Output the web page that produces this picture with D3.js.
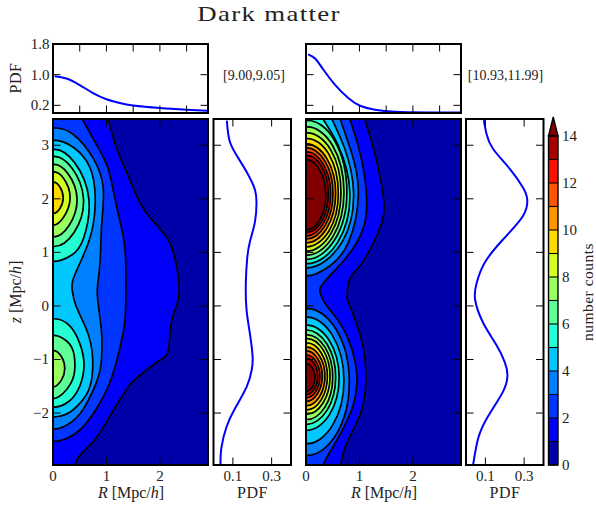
<!DOCTYPE html>
<html>
<head>
<meta charset="utf-8">
<script src="https://cdn.jsdelivr.net/npm/d3@7"></script>
<style>
html,body{margin:0;padding:0;background:#fff}
svg{display:block}
text{font-family:"Liberation Serif",serif;fill:#222}
</style>
</head>
<body>
<svg id="c" width="596" height="507"></svg>
<script>
// ---------- data ----------
const bandColors = ["#0000a8","#0000fa","#0036ff","#0080ff","#00c8ff","#23ffd3","#5eff99","#99ff5e","#d3ff23","#ffda00","#ff9600","#ff5400","#ff1000","#a80000","#800000"];
const colorbarTicks = [0,2,4,6,8,10,12,14];
const colorLevels = d3.range(0,15);
const zTicks = [-2,-1,0,1,2,3];
const rTicks = [0,1,2];
const rTickMarks = [1,2];
const topRTicks = [0.5,1,1.5,2,2.5];
const pdfTopTicks = [0.2,1.0,1.8];
const pdfSideTicks = [0.1,0.3];

const topPdfLeft = [[0.03,0.96],[0.25,0.9],[0.5,0.73],[0.75,0.52],[1.0,0.36],[1.25,0.26],[1.5,0.195],[2.0,0.13],[2.5,0.087],[2.88,0.06]];
const topPdfRight = [[0.04,1.53],[0.17,1.42],[0.32,1.14],[0.54,0.74],[0.79,0.39],[1.01,0.19],[1.29,0.087],[1.66,0.034],[2.29,0.016],[2.88,0.01]];
const sidePdfLeft = [[0.069,3.46],[0.084,3.07],[0.128,2.76],[0.179,2.45],[0.214,2.17],[0.222,1.92],[0.214,1.57],[0.188,1.2],[0.174,0.89],[0.167,0.45],[0.17,-0.05],[0.188,-0.52],[0.202,-0.95],[0.197,-1.2],[0.171,-1.51],[0.11,-1.92],[0.067,-2.26],[0.041,-2.64],[0.036,-2.95]];
const sidePdfRight = [[0.092,3.47],[0.106,3.21],[0.14,2.93],[0.226,2.56],[0.294,2.21],[0.316,1.99],[0.294,1.68],[0.191,1.24],[0.097,0.81],[0.055,0.43],[0.047,0.12],[0.089,-0.32],[0.157,-0.73],[0.2,-1.05],[0.214,-1.29],[0.191,-1.6],[0.114,-2.06],[0.063,-2.47],[0.037,-2.96]];

// contour lines: [level, [[R,z],...]]
const leftContours = [
 [1,[[0.97,3.7],[1.03,3.49],[1.19,2.95],[1.41,2.42],[1.63,1.92],[1.91,1.54],[2.16,1.23],[2.31,0.76],[2.36,0.26],[2.3,-0.03],[2.21,-0.33],[2.16,-0.83],[2.0,-1.01],[1.63,-1.29],[1.41,-1.51],[1.1,-2.0],[0.78,-2.5],[0.5,-2.79],[0.41,-2.98],[0.36,-3.2]]],
 [2,[[0.45,3.7],[0.55,3.49],[0.82,3.0],[1.03,2.57],[1.16,2.0],[1.31,1.32],[1.36,0.82],[1.36,0],[1.31,-0.52],[1.16,-1.14],[0.94,-1.7],[0.57,-2.25],[0.26,-2.47],[0,-2.53]]],
 [3,[[0,3.32],[0.38,3.2],[0.75,2.76],[0.94,2.2],[0.91,1.51],[0.88,0.82],[0.83,0.33],[0.85,0],[0.91,-0.52],[0.91,-0.95],[0.85,-1.32],[0.63,-1.82],[0.38,-2.14],[0,-2.3]]],
 [4,[[0,3.09],[0.32,3.0],[0.63,2.7],[0.78,2.2],[0.75,1.51],[0.57,0.95],[0.38,0.51],[0.36,0.29],[0.43,0],[0.63,-0.45],[0.74,-0.95],[0.69,-1.51],[0.5,-1.82],[0.29,-2.0],[0,-2.07]]],
 [5,[[0,2.92],[0.4,2.68],[0.67,2.0],[0.57,1.26],[0.35,0.95],[0,0.83]]],
 [5,[[0,-0.24],[0.3,-0.36],[0.5,-0.7],[0.58,-1.1],[0.5,-1.5],[0.3,-1.78],[0,-1.89]]],
 [6,[[0,2.79],[0.35,2.58],[0.57,2.0],[0.4,1.38],[0,1.11]]],
 [6,[[0,-0.55],[0.25,-0.65],[0.38,-0.85],[0.41,-1.12],[0.33,-1.45],[0,-1.73]]],
 [7,[[0,2.64],[0.28,2.47],[0.45,2.0],[0.3,1.5],[0,1.29]]],
 [7,[[0,-0.83],[0.16,-0.95],[0.22,-1.17],[0.16,-1.38],[0,-1.51]]],
 [8,[[0,2.5],[0.2,2.38],[0.32,2.02],[0.2,1.66],[0,1.51]]],
 [9,[[0,2.31],[0.13,2.22],[0.19,2.02],[0.13,1.82],[0,1.73]]]
];
const rightContours = [
 [1,[[1.05,3.7],[1.1,3.49],[1.29,2.83],[1.45,2.01],[1.38,1.45],[1.04,0.79],[0.82,0.51],[0.77,0.2],[0.82,0],[1.04,-0.64],[1.12,-1.29],[1.04,-1.95],[0.76,-2.57],[0.65,-2.97],[0.6,-3.2]]],
 [2,[[0.76,3.7],[0.82,3.49],[1.0,2.9],[1.13,2.1],[1.07,1.45],[0.75,0.9],[0.32,0.42],[0.27,0.23],[0.36,0.04],[0.6,-0.27],[0.82,-0.7],[0.95,-1.29],[0.85,-1.95],[0.54,-2.57],[0.32,-2.97],[0.27,-3.2]]],
 [3,[[0.58,3.7],[0.635,3.5],[0.84,2.9],[0.98,2.1],[0.8,1.2],[0.45,0.75],[0,0.56]]],
 [3,[[0,-0.05],[0.57,-0.45],[0.81,-1.42],[0.57,-2.39],[0,-2.79]]],
 [4,[[0.42,3.7],[0.48,3.5],[0.72,2.95],[0.89,2.12],[0.68,1.2],[0,0.71]]],
 [4,[[0,-0.21],[0.5,-0.56],[0.71,-1.39],[0.5,-2.22],[0,-2.57]]],
 [5,[[0.26,3.7],[0.32,3.49],[0.6,3.0],[0.82,2.12],[0.6,1.2],[0,0.79]]],
 [5,[[0,-0.36],[0.438,-0.65],[0.62,-1.34],[0.438,-2.03],[0,-2.32]]],
 [6,[[0,3.46],[0.54,3.08],[0.765,2.12],[0.54,1.24],[0,0.87]]],
 [6,[[0,-0.45],[0.392,-0.71],[0.555,-1.33],[0.392,-1.95],[0,-2.21]]],
 [7,[[0,3.34],[0.5,2.99],[0.71,2.12],[0.5,1.29],[0,0.95]]],
 [7,[[0,-0.54],[0.354,-0.77],[0.5,-1.33],[0.354,-1.89],[0,-2.12]]],
 [8,[[0,3.23],[0.465,2.91],[0.655,2.12],[0.465,1.35],[0,1.025]]],
 [8,[[0,-0.61],[0.318,-0.816],[0.45,-1.315],[0.318,-1.813],[0,-2.02]]],
 [9,[[0,3.125],[0.43,2.83],[0.605,2.1],[0.43,1.4],[0,1.105]]],
 [9,[[0,-0.69],[0.283,-0.873],[0.4,-1.315],[0.283,-1.757],[0,-1.94]]],
 [10,[[0,3.025],[0.39,2.75],[0.555,2.1],[0.39,1.45],[0,1.18]]],
 [10,[[0,-0.77],[0.25,-0.93],[0.355,-1.315],[0.25,-1.7],[0,-1.86]]],
 [11,[[0,2.95],[0.357,2.7],[0.505,2.1],[0.357,1.5],[0,1.25]]],
 [11,[[0,-0.84],[0.215,-0.98],[0.305,-1.31],[0.215,-1.64],[0,-1.78]]],
 [12,[[0,2.875],[0.325,2.64],[0.46,2.09],[0.325,1.54],[0,1.31]]],
 [12,[[0,-0.92],[0.185,-1.035],[0.26,-1.315],[0.185,-1.595],[0,-1.71]]],
 [13,[[0,2.81],[0.295,2.6],[0.417,2.09],[0.295,1.58],[0,1.375]]],
 [13,[[0,-0.98],[0.155,-1.08],[0.22,-1.32],[0.155,-1.55],[0,-1.65]]],
 [14,[[0,2.73],[0.26,2.53],[0.37,2.07],[0.26,1.61],[0,1.42]]],
 [14,[[0,-1.08],[0.12,-1.155],[0.17,-1.335],[0.12,-1.515],[0,-1.59]]]
];

// ---------- layout ----------
const svg = d3.select("#c");
const mainTop = 119, mainBottom = 465, topTop = 44, topBottom = 113;
const leftX = 53, rightX = 306, mainW = 155, sideW = 77.5, leftSide = 213.5, rightSide = 466;
const font = 15, labelFont = 16, tickLen = 7.5;
const zScale = d3.scaleLinear().domain([-2.97,3.49]).range([mainBottom,mainTop]);
const pdfScale = d3.scaleLinear().domain([0,1.8]).range([topBottom,topTop]);
const blue = "#0000ff";

function ticksIn(g,a,b,tv,scale,horizontal,len){
  tv.forEach(v=>{
    const p = scale(v);
    if(horizontal){
      g.append("line").attr("x1",a).attr("x2",a+len).attr("y1",p).attr("y2",p).attr("stroke","#000");
      g.append("line").attr("x1",b-len).attr("x2",b).attr("y1",p).attr("y2",p).attr("stroke","#000");
    } else {
      g.append("line").attr("y1",a).attr("y2",a-len).attr("x1",p).attr("x2",p).attr("stroke","#000");
      g.append("line").attr("y1",b+len).attr("y2",b).attr("x1",p).attr("x2",p).attr("stroke","#000");
    }
  });
}
function frame(g,x,y,w,h){
  g.append("rect").attr("x",x).attr("y",y).attr("width",w).attr("height",h)
   .attr("fill","none").attr("stroke","#000").attr("stroke-width",2);
}
let clipId = 0;
function clip(x,y,w,h){
  const id = "clip"+(clipId++);
  svg.append("clipPath").attr("id",id).append("rect").attr("x",x).attr("y",y).attr("width",w).attr("height",h);
  return id;
}
function mirrored(pts){
  const p = pts.slice();
  if(p[0][0]===0) p.unshift([-p[1][0],p[1][1]]);
  if(p[p.length-1][0]===0) p.push([-p[p.length-2][0],p[p.length-2][1]]);
  return p;
}

function mainPanel(x0,contours){
  const r = d3.scaleLinear().domain([0,2.9]).range([x0,x0+mainW]);
  const g = svg.append("g");
  const c = g.append("g").attr("clip-path",`url(#${clip(x0,mainTop,mainW,mainBottom-mainTop)})`);
  c.append("rect").attr("x",x0).attr("y",mainTop).attr("width",mainW).attr("height",mainBottom-mainTop).attr("fill",bandColors[0]);
  const line = d3.line().x(d=>r(d[0])).y(d=>zScale(d[1])).curve(d3.curveNatural);
  contours.forEach(([level,pts])=>{
    const p = mirrored(pts);
    const a = p[0], b = p[p.length-1];
    const left = r(-0.5);
    c.append("path")
     .attr("d",line(p)+`L${left},${zScale(b[1])}L${left},${zScale(a[1])}Z`)
     .attr("fill",bandColors[level]);
  });
  contours.forEach(([level,pts])=>{
    c.append("path").attr("d",line(mirrored(pts))).attr("fill","none").attr("stroke","#000").attr("stroke-width",1.7);
  });
  ticksIn(g,x0,x0+mainW,zTicks,zScale,true,tickLen);
  ticksIn(g,mainTop+tickLen,mainBottom-tickLen,rTickMarks,r,false,tickLen);
  frame(g,x0,mainTop,mainW,mainBottom-mainTop);
  rTicks.forEach(v=>{
    g.append("text").attr("x",r(v)).attr("y",480.5).attr("text-anchor","middle").attr("font-size",font).text(v);
  });
  const t = g.append("text").attr("x",x0+78).attr("y",498).attr("text-anchor","middle").attr("font-size",labelFont);
  t.append("tspan").attr("font-style","italic").text("R");
  t.append("tspan").text(" [Mpc/");
  t.append("tspan").attr("font-style","italic").text("h");
  t.append("tspan").text("]");
}

function topPanel(x0,data){
  const r = d3.scaleLinear().domain([0,2.9]).range([x0,x0+mainW]);
  const g = svg.append("g");
  const line = d3.line().x(d=>r(d[0])).y(d=>pdfScale(d[1])).curve(d3.curveNatural);
  g.append("path").datum(data).attr("d",line).attr("fill","none").attr("stroke",blue).attr("stroke-width",2);
  ticksIn(g,x0,x0+mainW,pdfTopTicks,pdfScale,true,tickLen);
  ticksIn(g,topTop+tickLen,topBottom-tickLen,topRTicks,r,false,tickLen);
  frame(g,x0,topTop,mainW,topBottom-topTop);
}

function sidePanel(x0,data){
  const p = d3.scaleLinear().domain([0,0.4]).range([x0,x0+sideW]);
  const g = svg.append("g");
  const line = d3.line().x(d=>p(d[0])).y(d=>zScale(d[1])).curve(d3.curveNatural);
  g.append("path").datum(data).attr("d",line).attr("fill","none").attr("stroke",blue).attr("stroke-width",2);
  ticksIn(g,x0,x0+sideW,zTicks,zScale,true,tickLen);
  ticksIn(g,mainTop+tickLen,mainBottom-tickLen,pdfSideTicks,p,false,tickLen);
  frame(g,x0,mainTop,sideW,mainBottom-mainTop);
  pdfSideTicks.forEach(v=>{
    g.append("text").attr("x",p(v)).attr("y",480.5).attr("text-anchor","middle").attr("font-size",font).text(v.toFixed(1));
  });
  g.append("text").attr("x",x0+39).attr("y",498).attr("text-anchor","middle").attr("font-size",labelFont).attr("letter-spacing","0.5px").text("PDF");
}

mainPanel(leftX,leftContours);
mainPanel(rightX,rightContours);
topPanel(leftX,topPdfLeft);
topPanel(rightX,topPdfRight);
sidePanel(leftSide,sidePdfLeft);
sidePanel(rightSide,sidePdfRight);

// left-axis labels
zTicks.forEach(v=>{
  svg.append("text").attr("x",49).attr("y",zScale(v)+5).attr("text-anchor","end").attr("font-size",font)
     .text(v<0?"\u2212"+(-v):v);
});
pdfTopTicks.forEach(v=>{
  svg.append("text").attr("x",49.5).attr("y",pdfScale(v)+5).attr("text-anchor","end").attr("font-size",font).text(v.toFixed(1));
});
svg.append("text").attr("transform","translate(21,78) rotate(-90)").attr("text-anchor","middle").attr("font-size",labelFont).attr("letter-spacing","0.5px").text("PDF");
const zl = svg.append("text").attr("transform","translate(21,292) rotate(-90)").attr("text-anchor","middle").attr("font-size",labelFont);
zl.append("tspan").attr("font-style","italic").text("z");
zl.append("tspan").text(" [Mpc/");
zl.append("tspan").attr("font-style","italic").text("h");
zl.append("tspan").text("]");

// range labels and title
svg.append("text").attr("x",254).attr("y",80).attr("text-anchor","middle").attr("font-size",14).text("[9.00,9.05]");
svg.append("text").attr("x",505.5).attr("y",80).attr("text-anchor","middle").attr("font-size",14).text("[10.93,11.99]");
svg.append("text").attr("transform","translate(269,21) scale(1.34,1)").attr("text-anchor","middle").attr("font-size",20).attr("letter-spacing","1px").text("Dark matter");

// colour bar
const cbX = 548.5, cbW = 9.5;
const cbScale = d3.scaleLinear().domain([0,14]).range([465,136]);
const cb = svg.append("g");
colorLevels.slice(0,14).forEach(l=>{
  cb.append("rect").attr("x",cbX).attr("width",cbW).attr("y",cbScale(l+1)).attr("height",cbScale(l)-cbScale(l+1)).attr("fill",bandColors[l]);
});
cb.append("path").attr("d",d3.line()([[cbX,cbScale(14)],[cbX+cbW/2,117],[cbX+cbW,cbScale(14)]])+"Z").attr("fill",bandColors[14]).attr("stroke","#000").attr("stroke-width",1.4);
colorLevels.forEach(l=>{
  cb.append("line").attr("x1",cbX).attr("x2",cbX+cbW).attr("y1",cbScale(l)).attr("y2",cbScale(l)).attr("stroke","#000").attr("stroke-width",1.1);
});
cb.append("rect").attr("x",cbX).attr("y",cbScale(14)).attr("width",cbW).attr("height",cbScale(0)-cbScale(14)).attr("fill","none").attr("stroke","#000").attr("stroke-width",1.4);
colorbarTicks.forEach(v=>{
  cb.append("text").attr("x",562).attr("y",cbScale(v)+5).attr("font-size",font).text(v);
});
svg.append("text").attr("transform","translate(593,292) rotate(-90)").attr("text-anchor","middle").attr("font-size",15.5).attr("letter-spacing","0.5px").text("number counts");
</script>
</body>
</html>
